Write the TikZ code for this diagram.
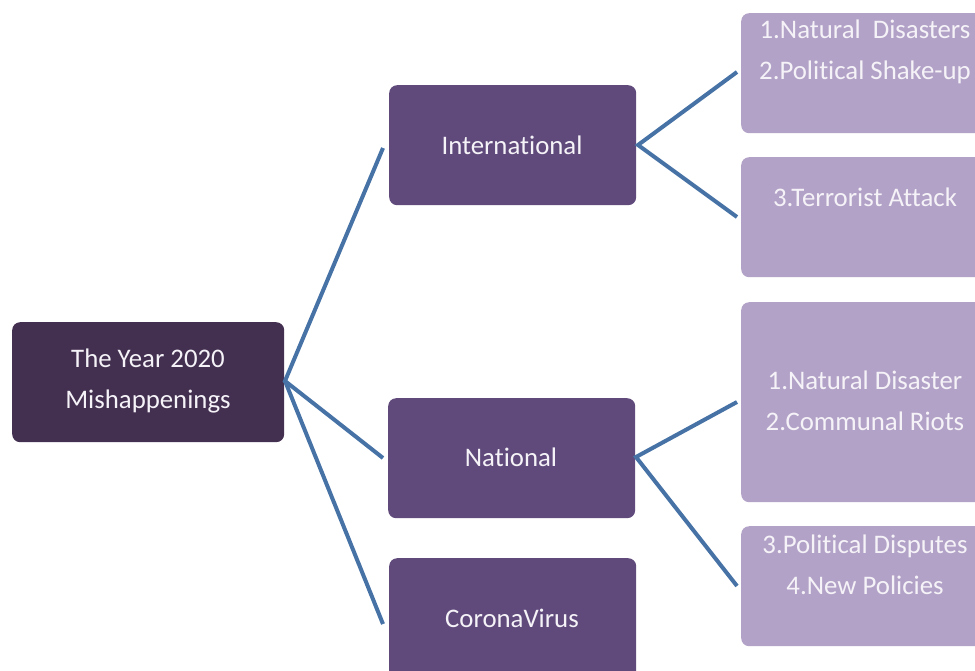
\documentclass[tikz,border=0pt]{standalone}
\usepackage{fontspec}
\setmainfont{Carlito}[Ligatures=NoCommon]
\definecolor{rootc}{HTML}{432F50}
\definecolor{midc}{HTML}{604A7B}
\definecolor{leafc}{HTML}{B3A2C7}
\definecolor{linec}{HTML}{4672A6}
\definecolor{txt}{HTML}{F5F3F8}
\begin{document}
\begin{tikzpicture}[x=1pt,y=-1pt,
  box/.style={rectangle,rounded corners=8pt,inner sep=0pt,anchor=north west},
  rootbox/.style={box,fill=rootc,minimum width=272pt,minimum height=120pt},
  midbox/.style={box,fill=midc,minimum width=247pt,minimum height=120pt},
  leafbox/.style={box,fill=leafc,minimum width=250pt},
  lbl/.style={text=txt,font=\fontsize{26.8}{41}\selectfont,align=center,inner sep=0pt},
  conn/.style={draw=linec,line width=4pt}]
\useasboundingbox (0,0) rectangle (975,670);
\begin{scope}
\clip (0,0) rectangle (975,670);
% boxes
\node[rootbox] (root) at (12,322) {};
\node[midbox] (intl) at (389,85) {};
\node[midbox] (natl) at (388,398) {};
\node[midbox,minimum height=140pt] (corona) at (389,558) {};
\node[leafbox,minimum height=120pt] (l1) at (741,13) {};
\node[leafbox,minimum height=120pt] (l2) at (741,157) {};
\node[leafbox,minimum height=200pt] (l3) at (741,302) {};
\node[leafbox,minimum height=120pt] (l4) at (741,526) {};
% texts
\node[lbl] (troot) at (148,381) {The Year 2020\\Mishappenings};
\node[lbl] (tintl) at (512,145) {International};
\node[lbl] (tnatl) at (511,457) {National};
\node[lbl] (tcorona) at (512,618) {CoronaVirus};
\node[lbl] (tl1) at (865,52) {1.Natural\ \ Disasters\\2.Political Shake-up};
\node[lbl] (tl2) at (865,197) {3.Terrorist Attack};
\node[lbl] (tl3) at (865,401) {1.Natural Disaster\\2.Communal Riots};
\node[lbl] (tl4) at (865,565) {3.Political Disputes\\4.New Policies};
\end{scope}
% connectors
\coordinate (rout) at (285,381);
\coordinate (iin) at (383,148);
\coordinate (nin) at (383,458);
\coordinate (cin) at (383,624);
\coordinate (iout) at (638,145);
\coordinate (l1in) at (737,72);
\coordinate (l2in) at (737,217);
\coordinate (nout) at (636,457);
\coordinate (l3in) at (737,402);
\coordinate (l4in) at (737,586);
\draw[conn] (iin) -- (rout) -- (nin);
\draw[conn] (rout) -- (cin);
\draw[conn] (l1in) -- (iout) -- (l2in);
\draw[conn] (l3in) -- (nout) -- (l4in);
\end{tikzpicture}
\end{document}
